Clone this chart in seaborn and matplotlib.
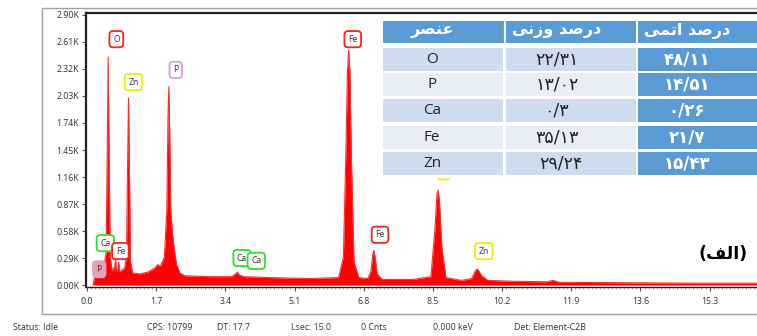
import numpy as np
import pandas as pd
import matplotlib

matplotlib.use('Agg')

import matplotlib.pyplot as plt
from matplotlib.patches import Rectangle
from matplotlib.ticker import FixedLocator, MultipleLocator
import seaborn as sns

# spectrum outline (energy in keV, counts in K)
energy = [0.15, 0.22, 0.28, 0.35, 0.42, 0.47, 0.50, 0.52, 0.54, 0.57, 0.62,
          0.68, 0.70, 0.72, 0.76, 0.78, 0.80, 0.86, 0.92, 0.97, 1.00, 1.02,
          1.04, 1.07, 1.12, 1.30, 1.50, 1.65, 1.74, 1.80, 1.90, 1.96, 1.99,
          2.01, 2.03, 2.06, 2.10, 2.14, 2.20, 2.28, 2.40, 3.00, 3.55, 3.65,
          3.69, 3.74, 3.85, 4.50, 5.50, 6.18, 6.30, 6.36, 6.40, 6.43, 6.46,
          6.50, 6.56, 6.68, 6.90, 6.98, 7.02, 7.05, 7.08, 7.13, 7.25, 8.00,
          8.45, 8.55, 8.60, 8.63, 8.66, 8.72, 8.82, 9.20, 9.45, 9.55, 9.60,
          9.70, 9.85, 10.5, 11.3, 11.45, 11.6, 13.0, 15.0, 16.7]
counts = [0.00, 0.18, 0.22, 0.20, 0.22, 0.35, 1.60, 2.45, 1.50, 0.30, 0.15,
          0.20, 0.28, 0.14, 0.18, 0.25, 0.14, 0.16, 0.18, 0.30, 1.40, 2.01,
          1.30, 0.25, 0.13, 0.12, 0.14, 0.18, 0.22, 0.20, 0.30, 0.80, 1.80,
          2.13, 1.70, 0.80, 0.55, 0.40, 0.22, 0.13, 0.10, 0.09, 0.09, 0.12,
          0.14, 0.11, 0.09, 0.08, 0.07, 0.08, 0.30, 1.40, 2.30, 2.52, 2.30,
          1.30, 0.25, 0.08, 0.07, 0.15, 0.33, 0.37, 0.30, 0.12, 0.06, 0.06,
          0.09, 0.60, 0.98, 1.02, 0.90, 0.40, 0.08, 0.05, 0.07, 0.16, 0.17,
          0.10, 0.05, 0.04, 0.035, 0.05, 0.03, 0.025, 0.02, 0.02]

xticks = [0.0, 1.7, 3.4, 5.1, 6.8, 8.5, 10.2, 11.9, 13.6, 15.3]
yticks = [0.00, 0.29, 0.58, 0.87, 1.16, 1.45, 1.74, 2.03, 2.32, 2.61, 2.90]

# element marker boxes on the spectrum (the last Zn box sits under the table)
mark_names = ["O", "Zn", "P", "Fe", "Ca", "Fe", "P", "Ca", "Ca", "Fe", "Zn", "Zn"]
mark_x = [0.72, 1.14, 2.18, 6.53, 0.45, 0.82, 0.30, 3.81, 4.16, 7.20, 9.75, 8.76]
mark_y = [2.64, 2.18, 2.31, 2.64, 0.45, 0.365, 0.17, 0.29, 0.26, 0.54, 0.365, 1.22]
mark_hidden = [False] * 11 + [True]
mark_colors = {"O": "#ff2020", "Fe": "#ff2020", "Zn": "#f0f000",
               "P": "#d8a0e0", "Ca": "#30e030"}

# composition table
elements = ["O", "P", "Ca", "Fe", "Zn"]
weight_pct = ["22.31", "13.02", "0.3", "35.13", "29.24"]
atomic_pct = ["48.11", "14.51", "0.26", "21.7", "15.43"]
# headers written in visual order with presentation forms
headers = ["\uFEAE\uFEBC\uFEE8\uFECB",
           "\uFEF0\uFEE7\uFEAF\uFEED \uFEAA\uFEBB\uFEAD\uFEA9",
           "\uFEF0\uFEE4\uFE97\uFE8D \uFEAA\uFEBB\uFEAD\uFEA9"]
panel_label = "(\uFED2\uFEDF\uFE8D)"

status_items = ["Status: Idle", "CPS: 10799", "DT: 17.7", "Lsec: 15.0",
                "0 Cnts", "0.000 keV", "Det: Element-C2B"]
status_x = [13, 147, 217, 291, 361, 433, 514]

to_fa = str.maketrans("0123456789.", "\u06F0\u06F1\u06F2\u06F3\u06F4\u06F5\u06F6\u06F7\u06F8\u06F9/")


def main():
    sns.set_theme(style="white")
    plt.rcParams['font.family'] = ['Open Sans', 'DejaVu Sans']

    W, H = 757, 336
    fig = plt.figure(figsize=(W / 100, H / 100), dpi=100)

    # outer grey frame of the software window
    fig.add_artist(Rectangle((42 / W, 22 / H), 1.0, (314 - 8) / H,
                             transform=fig.transFigure, fill=False,
                             edgecolor="#a0a0a0", lw=1.0))

    ax = fig.add_axes([86 / W, (H - 287) / H, 1 - 86 / W + 0.01, (287 - 13) / H])
    df = pd.DataFrame({"energy": energy, "counts": counts})
    ax.fill_between(df["energy"], 0, df["counts"], color="#ff0000", lw=0)
    sns.lineplot(data=df, x="energy", y="counts", ax=ax, color="#ff3030", lw=0.8)

    ax.set_xlim(-0.025, 16.65)
    ax.set_ylim(-0.021, 2.921)
    ax.xaxis.set_major_locator(FixedLocator(xticks))
    ax.xaxis.set_minor_locator(MultipleLocator(0.1))
    ax.yaxis.set_major_locator(FixedLocator(yticks))
    ax.set_xticklabels(["%.1f" % v for v in xticks])
    ax.set_yticklabels(["%.2fK" % v for v in yticks])
    ax.set_xlabel("")
    ax.set_ylabel("")
    ax.tick_params(axis="both", which="major", length=3, width=0.8, color="#555",
                   labelsize=6.3, labelcolor="#333", pad=2, direction="out", bottom=True, left=True)
    ax.tick_params(axis="x", which="minor", length=1.5, width=0.5, color="#888", bottom=True)
    ax.tick_params(axis="x", pad=4)
    for s in ["left", "top", "bottom"]:
        ax.spines[s].set_color("#222")
        ax.spines[s].set_linewidth(1.6)
    ax.spines["bottom"].set_linewidth(1.0)
    ax.spines["right"].set_visible(False)

    for name, x, y, hidden in zip(mark_names, mark_x, mark_y, mark_hidden):
        fc = "#f4a0a8" if (name == "P" and y < 0.5) else "white"
        ax.text(x, y, "  " if hidden else name, ha="center", va="center",
                fontsize=6.2, color="#333",
                bbox=dict(boxstyle="round,pad=0.42", fc=fc, ec=mark_colors[name], lw=1.3))

    # overlay in pixel units for the table and status bar
    tax = fig.add_axes([0, 0, 1, 1], zorder=5)
    tax.set_xlim(0, W)
    tax.set_ylim(H, 0)
    tax.axis("off")
    tax.patch.set_alpha(0)

    tax.add_patch(Rectangle((381, 15), W - 381, 163, fc="white", ec="none"))
    cols = [(383, 503), (506, 636), (638, 760)]
    text_cx = [432, 557, 687]
    blue = "#5b9bd5"
    tax.add_patch(Rectangle((383, 21), 380, 22, fc=blue, ec="none"))
    for (x0, x1), cx, h in zip(cols, text_cx, headers):
        tax.text(cx, 31, h, ha="center", va="center", fontsize=11.5,
                 color="white", family="DejaVu Sans", fontweight="bold")
    for i in range(1, 3):
        tax.plot([cols[i][0] - 1.5] * 2, [21, 43], color="white", lw=1.5)

    row_top = [48, 73, 99, 126, 152]
    for i, (el, wp, ap) in enumerate(zip(elements, weight_pct, atomic_pct)):
        y0 = row_top[i]
        light = "#cfdbee" if i % 2 == 0 else "#e8eef7"
        tax.add_patch(Rectangle((cols[0][0], y0), cols[0][1] - cols[0][0], 23, fc=light, ec="none"))
        tax.add_patch(Rectangle((cols[1][0], y0), cols[1][1] - cols[1][0], 23, fc=light, ec="none"))
        tax.add_patch(Rectangle((cols[2][0], y0), cols[2][1] - cols[2][0], 23, fc=blue, ec="none"))
        yc = y0 + 11.5
        tax.text(text_cx[0], yc, el, ha="center", va="center", fontsize=11, color="#222")
        tax.text(text_cx[1] + (4 if el == "Zn" else 0), yc, wp.translate(to_fa), ha="center",
                 va="center", fontsize=12.5, color="#222", family="DejaVu Sans")
        tax.text(text_cx[2], yc, ap.translate(to_fa), ha="center", va="center",
                 fontsize=12, color="white", family="DejaVu Sans", fontweight="bold")

    tax.text(723, 254, panel_label, ha="center", va="center", fontsize=12.5,
             fontweight="bold", color="black", family="DejaVu Sans")

    for s, x in zip(status_items, status_x):
        tax.text(x, 327, s, ha="left", va="center", fontsize=6.3, color="#333")

    fig.savefig("out.png", dpi=100)


if __name__ == "__main__":
    main()
